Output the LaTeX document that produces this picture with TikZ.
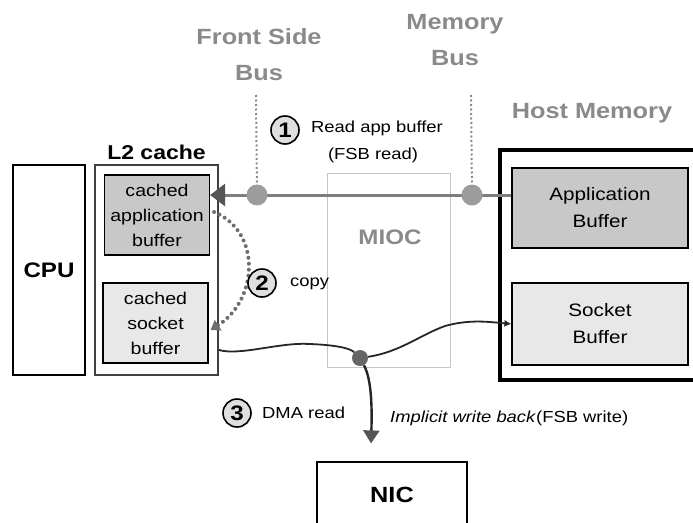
\documentclass[tikz,border=0pt]{standalone}
\usepackage{fontspec}
\setmainfont{Liberation Sans}[FakeStretch=1.15]
\usepackage{tikz}
\usetikzlibrary{arrows.meta, positioning, calc}
\usepackage{xcolor}
\definecolor{LabGray}{HTML}{8A8A8A}
\definecolor{DotGray}{HTML}{9C9C9C}
\definecolor{LineGray}{HTML}{7E7E7E}
\definecolor{TipGray}{HTML}{555555}
\definecolor{AppFill}{HTML}{C8C8C8}
\definecolor{SockFill}{HTML}{E8E8E8}
\definecolor{MiocLine}{HTML}{C6C6C6}
\newcommand{\sizeat}[2]{\fontsize{#1}{#2}\selectfont}

\begin{document}
\begin{tikzpicture}[x=1pt, y=-1pt, >=Stealth,
  box/.style={draw, line width=1.2pt, inner sep=0pt},
  buf/.style={box, align=center, font=\sizeat{17}{25}},
  hostbuf/.style={box, align=center, font=\sizeat{18}{27}},
  bus/.style={LabGray, align=center, font=\bfseries\sizeat{22}{36}},
  dot/.style={circle, fill=DotGray, inner sep=0pt, minimum size=21pt},
  numcirc/.style={circle, draw, line width=1.6pt, fill=gray!25, inner sep=0pt,
    minimum size=28pt, font=\bfseries\sizeat{21}{21}},
  note/.style={inner sep=0pt, font=\sizeat{16}{22}}]
  \useasboundingbox (0,0) rectangle (693,522);

  % processor side
  \node[box, minimum width=72pt, minimum height=210pt,
    font=\bfseries\sizeat{21}{21}] (cpu) at (49,270) {CPU};
  \node[box, draw=black!75, minimum width=123pt, minimum height=210pt] (l2) at (156.5,270) {};
  \node[above=5pt of l2, inner sep=0pt, font=\bfseries\sizeat{20}{20}] (l2lab) {L2 cache};
  \node[buf, fill=AppFill, minimum width=105pt, minimum height=80pt] (capp) at (157,215)
    {cached\\application\\buffer};
  \node[buf, fill=SockFill, minimum width=105pt, minimum height=80pt] (csock) at (155.5,323)
    {cached\\socket\\buffer};

  % chipset and memory
  \node[draw=MiocLine, line width=0.8pt, minimum width=123pt, minimum height=194pt] (mioc) at (388.5,270) {};
  \node[LabGray, font=\bfseries\sizeat{21}{21}] (mioclab) at (390,237) {MIOC};
  \node[draw, line width=3.5pt, minimum width=212pt, minimum height=230pt] (host) at (606,265) {};
  \node[LabGray, font=\bfseries\sizeat{22}{22}] (hostlab) at (592,113) {Host Memory};
  \node[hostbuf, fill=AppFill, minimum width=176pt, minimum height=80pt] (appbuf) at (600,208)
    {Application\\Buffer};
  \node[hostbuf, fill=SockFill, minimum width=176pt, minimum height=82pt] (sockbuf) at (600,324)
    {Socket\\Buffer};
  \node[box, minimum width=150pt, minimum height=66pt,
    font=\bfseries\sizeat{22}{22}] (nic) at (392,495) {NIC};

  % buses
  \node[bus] (fsb) at (259,55) {Front Side\\Bus};
  \node[bus] (memb) at (455,40) {Memory\\Bus};
  \coordinate (fsbtop) at (256,95);
  \coordinate (membtop) at (471,95);

  % (1) read app buffer
  \draw[LineGray, line width=3pt, -{Triangle[length=15pt, width=22pt, color=TipGray]}]
    (appbuf.west |- 0,195) -- (capp.east |- 0,195);
  \node[dot] (fsbdot) at (257,195) {};
  \node[dot] (mbdot) at (472,195) {};
  \draw[LabGray, line width=2pt, dash pattern=on 2pt off 2.5pt] (fsbtop) -- (fsbdot);
  \draw[LabGray, line width=2pt, dash pattern=on 2pt off 2.5pt] (membtop) -- (mbdot);
  \node[numcirc] (n1) at (285,130) {1};
  \node[note, anchor=west] (rd1) at (311,128) {Read app buffer};
  \node[note] (rd2) at (373,155) {(FSB read)};

  % (2) copy
  \draw[TipGray!85, line width=4pt, line cap=round, dash pattern=on 0pt off 6pt,
    -{Triangle[length=9pt, width=12pt, line cap=butt]}]
    ($(capp.east)+(4,-3)$) .. controls (262,232) and (258,300) .. ($(csock.east)+(2,7)$);
  \node[numcirc] (n2) at (262,283) {2};
  \node[note, anchor=west] (cp) at (290,284) {copy};

  % (3) DMA read and write back
  \coordinate (wbstart) at (219,350);
  \node[circle, fill=black!60, inner sep=0pt, minimum size=16pt] (joint) at (360,358) {};
  \draw[black!85, line width=1.8pt] (wbstart) .. controls (240,356) and (280,342) .. (310,344)
    .. controls (335,345) and (350,348) .. (joint);
  \draw[black!85, line width=1.8pt, -{Latex[length=7pt, width=7pt]}]
    (joint) .. controls (400,352) and (420,335) .. (445,326)
    .. controls (470,319) and (490,322) .. (sockbuf.west);
  \draw[black!85, line width=2.4pt, -{Triangle[length=13pt, width=16pt, color=TipGray]}]
    (joint) .. controls (372,380) and (372,410) .. ([xshift=-21pt, yshift=18pt]nic.north);
  \node[numcirc] (n3) at (237,413) {3};
  \node[note, anchor=west] (dma) at (262,413) {DMA read};
  \node[note, anchor=west] (wb) at (390,418) {\textit{Implicit write back}(FSB write)};
\end{tikzpicture}
\end{document}
